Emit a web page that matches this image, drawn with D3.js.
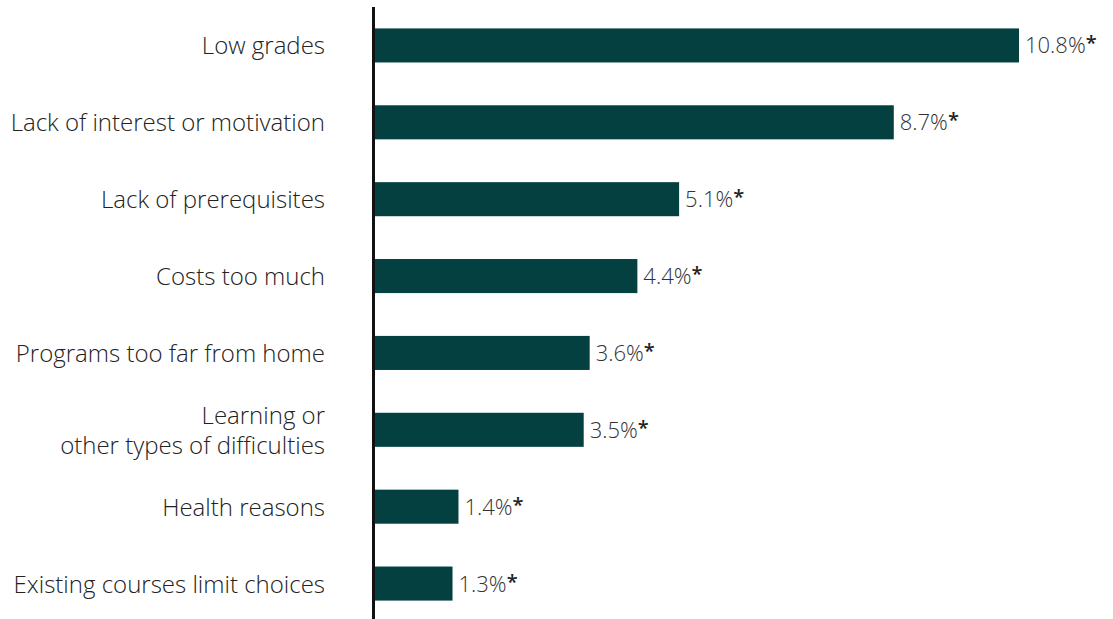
<!DOCTYPE html>
<html>
<head>
<meta charset="utf-8">
<script src="https://cdn.jsdelivr.net/npm/d3@7"></script>
<style>
  html, body { margin: 0; padding: 0; background: #fff; }
  svg { display: block; }
  text { font-family: "Open Sans", sans-serif; font-weight: 300; fill: #222; }
</style>
</head>
<body>
<svg id="chart" width="1113" height="619"></svg>
<script>
// Reasons reported (each label line is a separate entry)
const categories = [
  ["Low grades"],
  ["Lack of interest or motivation"],
  ["Lack of prerequisites"],
  ["Costs too much"],
  ["Programs too far from home"],
  ["Learning or", "other types of difficulties"],
  ["Health reasons"],
  ["Existing courses limit choices"]
];
const values = [10.8, 8.7, 5.1, 4.4, 3.6, 3.5, 1.4, 1.3];
const valueLabels = ["10.8%", "8.7%", "5.1%", "4.4%", "3.6%", "3.5%", "1.4%", "1.3%"];
const flag = "*";

const svg = d3.select("#chart");
const axisX = 373.5;
const barX = 375;

const x = d3.scaleLinear().domain([0, 10.8]).range([barX, 1019]);
const y = d3.scaleBand()
  .domain(d3.range(values.length))
  .range([7, 622])
  .paddingInner(0.557)
  .paddingOuter(0.2785);

// Bars
svg.append("g").selectAll("rect")
  .data(values)
  .join("rect")
  .attr("x", barX)
  .attr("y", (d, i) => y(i))
  .attr("width", d => x(d) - barX)
  .attr("height", y.bandwidth())
  .attr("fill", "#044040");

// Vertical baseline
svg.append("line")
  .attr("x1", axisX).attr("x2", axisX)
  .attr("y1", 7).attr("y2", 619)
  .attr("stroke", "#111").attr("stroke-width", 3);

// Category labels
const lineH = 30;
const cat = svg.append("g").selectAll("text")
  .data(categories)
  .join("text")
  .attr("text-anchor", "end")
  .attr("font-size", 24)
  .attr("y", (d, i) => y(i) + y.bandwidth() / 2 + 9 - (d.length - 1) * lineH / 2);
cat.selectAll("tspan")
  .data(d => d)
  .join("tspan")
  .attr("x", 325)
  .attr("dy", (d, j) => j === 0 ? 0 : lineH)
  .text(d => d);

// Value labels with flag
const vl = svg.append("g").selectAll("text")
  .data(values)
  .join("text")
  .attr("x", d => x(d) + 6)
  .attr("y", (d, i) => y(i) + y.bandwidth() / 2 + 8)
  .attr("font-size", 22)
  .style("fill", "#333");
vl.append("tspan").text((d, i) => valueLabels[i]);
vl.append("tspan")
  .attr("dy", -3)
  .attr("font-size", 20)
  .style("font-weight", 600)
  .style("fill", "#222")
  .text(flag);
</script>
</body>
</html>
